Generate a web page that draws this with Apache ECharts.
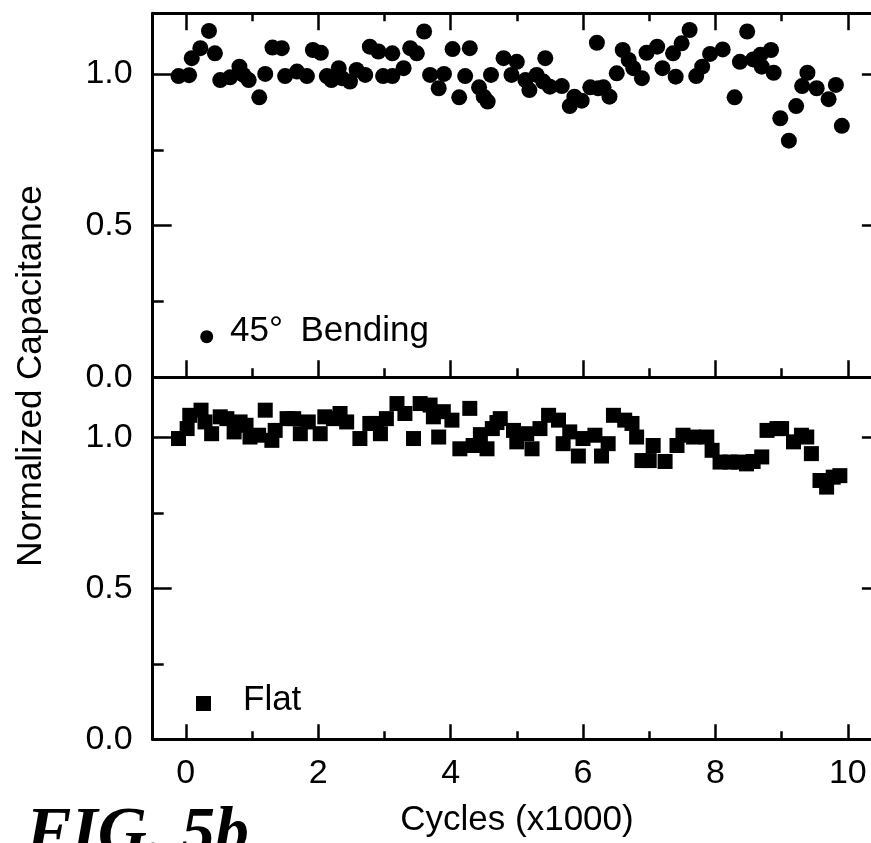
<!DOCTYPE html>
<html>
<head>
<meta charset="utf-8">
<script src="https://cdn.jsdelivr.net/npm/echarts@6/dist/echarts.min.js"></script>
<style>html,body{margin:0;padding:0;background:#fff;}#c{width:871px;height:843px;}</style>
</head>
<body>
<div id="c"></div>
<script>
// ---- data ----
const bendX = [-0.11,0.05,0.09,0.22,0.35,0.44,0.52,0.67,0.81,0.87,0.95,1.11,1.20,1.31,1.45,1.50,1.68,1.83,1.92,2.04,2.13,2.20,2.31,2.36,2.48,2.58,2.71,2.78,2.91,2.98,3.12,3.12,3.29,3.39,3.49,3.60,3.69,3.82,3.90,4.03,4.13,4.22,4.29,4.43,4.50,4.56,4.61,4.80,4.92,5.00,5.13,5.19,5.30,5.40,5.43,5.50,5.68,5.80,5.87,5.98,6.11,6.21,6.23,6.31,6.40,6.51,6.60,6.69,6.76,6.89,6.96,7.12,7.20,7.36,7.40,7.49,7.61,7.71,7.80,7.92,8.11,8.29,8.37,8.48,8.57,8.68,8.70,8.84,8.88,8.98,9.11,9.22,9.31,9.39,9.53,9.71,9.82,9.91];
const bendY = [0.993,0.996,1.052,1.085,1.142,1.068,0.980,0.989,1.024,0.997,0.980,0.923,1.000,1.087,1.085,0.993,1.008,0.993,1.079,1.070,0.993,0.980,1.019,0.986,0.975,1.013,0.997,1.090,1.074,0.993,1.068,0.993,1.019,1.085,1.068,1.140,0.997,0.953,1.000,1.082,0.923,0.993,1.085,0.956,0.925,0.909,0.997,1.052,0.997,1.040,0.980,0.947,0.997,0.975,1.052,0.958,0.960,0.894,0.925,0.912,0.956,1.103,0.953,0.956,0.925,1.002,1.079,1.046,1.019,0.986,1.070,1.090,1.019,1.068,0.991,1.101,1.145,0.993,1.024,1.066,1.081,0.923,1.040,1.140,1.048,1.063,1.024,1.079,1.004,0.854,0.780,0.894,0.960,1.004,0.953,0.917,0.964,0.829];
const flatX = [-0.11,0.02,0.06,0.23,0.29,0.39,0.52,0.62,0.73,0.82,0.91,0.97,1.10,1.20,1.30,1.35,1.53,1.63,1.73,1.85,2.03,2.10,2.23,2.33,2.43,2.63,2.78,2.88,2.94,3.03,3.19,3.31,3.44,3.54,3.69,3.74,3.82,3.89,4.02,4.14,4.29,4.34,4.45,4.55,4.63,4.70,4.75,4.95,5.00,5.15,5.23,5.35,5.48,5.63,5.70,5.80,5.93,6.00,6.18,6.28,6.38,6.46,6.63,6.74,6.81,6.89,7.00,7.06,7.24,7.42,7.51,7.67,7.87,7.95,8.07,8.22,8.35,8.47,8.57,8.70,8.78,8.93,9.00,9.18,9.30,9.38,9.45,9.58,9.68,9.78,9.88];
const flatY = [0.997,1.030,1.074,1.091,1.052,1.013,1.069,1.063,1.019,1.052,1.041,1.002,1.008,1.091,0.991,1.024,1.063,1.063,1.013,1.052,1.013,1.069,1.063,1.080,1.052,0.997,1.047,1.047,1.013,1.063,1.113,1.080,0.997,1.113,1.108,1.069,1.002,1.086,1.058,0.963,1.097,0.974,1.010,0.963,1.030,1.050,1.063,1.024,0.986,1.013,0.963,1.030,1.074,1.058,0.980,1.019,0.939,0.997,1.008,0.939,0.980,1.074,1.058,1.047,1.002,0.924,0.924,0.974,0.921,0.974,1.008,1.002,1.002,0.958,0.919,0.919,0.919,0.913,0.921,0.936,1.024,1.030,1.030,0.986,1.008,1.002,0.947,0.858,0.836,0.869,0.874];
const xMajor = [0,2,4,6,8,10];
const xMinor = [1,3,5,7,9];
const yMajor = [0,0.5,1.0];
const yMinor = [0.25,0.75];
const bendName = '45°\u2002Bending';
const flatName = 'Flat';

const FONT = '"Liberation Sans", Arial, Helvetica, sans-serif';
const BLACK = '#000';
const LW = 3, TW = 2.5;

function zip(xs, ys){ return xs.map((x,i)=>[x, ys[i]]); }

const xAxes = [], yAxes = [];
function xAx(grid, pos, vals, len, lineShow, labels){
  xAxes.push({
    gridIndex: grid, type:'value', position: pos, min:-0.5, max:10.5,
    axisLine:{show: lineShow, onZero:false, lineStyle:{color:BLACK, width:LW}},
    axisTick:{show: len>0, inside:true, length: len, customValues: vals, lineStyle:{color:BLACK, width:TW}},
    axisLabel:{show: !!labels, customValues: vals, color:BLACK, fontSize:34, fontFamily:FONT, margin:17},
    splitLine:{show:false}
  });
  return xAxes.length-1;
}
function yAx(grid, pos, vals, len, lineShow, labels){
  yAxes.push({
    gridIndex: grid, type:'value', position: pos, min:0, max:1.2,
    axisLine:{show: lineShow, onZero:false, lineStyle:{color:BLACK, width:LW}},
    axisTick:{show:true, inside:true, length: len, customValues: vals, lineStyle:{color:BLACK, width:TW}},
    axisLabel:{show: !!labels, customValues: vals, color:BLACK, fontSize:34, fontFamily:FONT, margin:20,
      formatter: v => v.toFixed(1)},
    splitLine:{show:false}
  });
  return yAxes.length-1;
}

// top grid (0)
const tX = xAx(0,'bottom',xMajor,17,true,false);
xAx(0,'bottom',xMinor,9,false,false);
xAx(0,'top',xMajor,17,true,false);
xAx(0,'top',xMinor,8,false,false);
const tY = yAx(0,'left',yMajor,19,true,true);
yAx(0,'left',yMinor,11,false,false);
yAx(0,'right',yMajor,19,true,false);
// bottom grid (1)
const bX = xAx(1,'bottom',xMajor,15,true,true);
xAx(1,'bottom',xMinor,8,false,false);
const bY = yAx(1,'left',yMajor,19,true,true);
yAx(1,'left',yMinor,11,false,false);
yAx(1,'right',yMajor,19,true,false);

const chart = echarts.init(document.getElementById('c'), null, {renderer:'canvas'});
chart.setOption({
  animation:false,
  backgroundColor:'#fff',
  grid:[
    {left:152.7, top:13.3, width:728.2, height:364, outerBoundsMode:'none', containLabel:false},
    {left:152.7, top:377.3, width:728.2, height:362, outerBoundsMode:'none', containLabel:false}
  ],
  xAxis: xAxes,
  yAxis: yAxes,
  series:[
    {name:bendName, type:'scatter', xAxisIndex:tX, yAxisIndex:tY, symbol:'circle', symbolSize:16,
     itemStyle:{color:BLACK, opacity:1}, data: zip(bendX, bendY)},
    {name:flatName, type:'scatter', xAxisIndex:bX, yAxisIndex:bY, symbol:'rect', symbolSize:15,
     itemStyle:{color:BLACK, opacity:1}, data: zip(flatX, flatY)}
  ],
  graphic:[
    {type:'circle', shape:{cx:206.7, cy:336.7, r:6.5}, style:{fill:BLACK}},
    {type:'text', x:230, y:331, style:{text:bendName, fill:BLACK, font:'35px '+FONT, textAlign:'left', textVerticalAlign:'middle'}},
    {type:'rect', shape:{x:196, y:696, width:15, height:15}, style:{fill:BLACK}},
    {type:'text', x:243, y:700.5, style:{text:flatName, fill:BLACK, font:'35px '+FONT, textAlign:'left', textVerticalAlign:'middle'}},
    {type:'text', x:31, y:376, rotation:Math.PI/2, style:{text:'Normalized Capacitance', fill:BLACK, font:'35px '+FONT, textAlign:'center', textVerticalAlign:'middle'}},
    {type:'text', x:517, y:820, style:{text:'Cycles (x1000)', fill:BLACK, font:'35px '+FONT, textAlign:'center', textVerticalAlign:'middle'}},
    {type:'text', x:26, y:835, style:{text:'FIG. 5b', fill:BLACK, font:'italic bold 68px "Liberation Serif", "Times New Roman", serif', textAlign:'left', textVerticalAlign:'middle'}}
  ]
});
</script>
</body>
</html>
